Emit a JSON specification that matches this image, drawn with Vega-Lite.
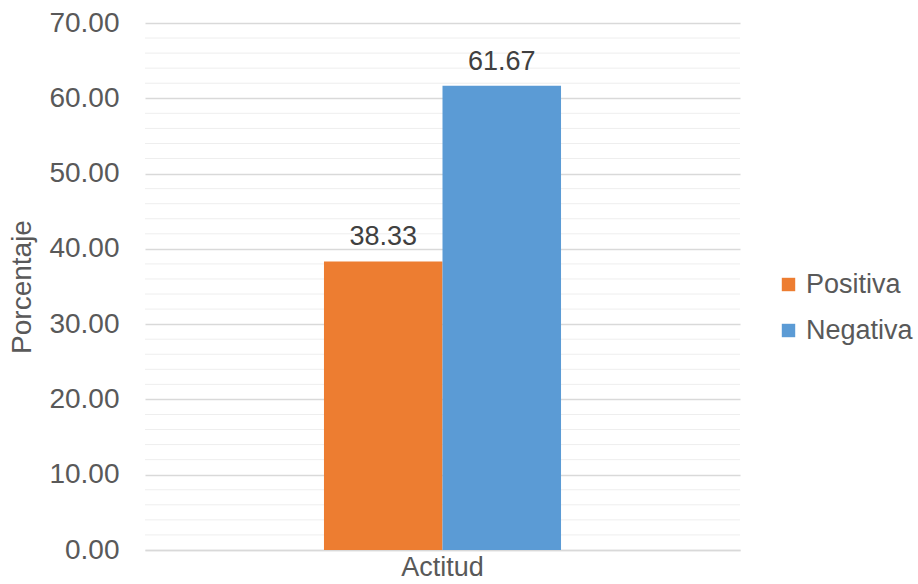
{
  "$schema": "https://vega.github.io/schema/vega-lite/v6.json",
  "width": 595,
  "height": 527,
  "autosize": "none",
  "padding": {"left": 145, "top": 23, "right": 178, "bottom": 34},
  "background": "white",
  "config": {
    "font": "Liberation Sans",
    "view": {"stroke": null}
  },
  "datasets": {
    "bars": [
      {"grupo": "Actitud", "serie": "Positiva", "valor": 38.33},
      {"grupo": "Actitud", "serie": "Negativa", "valor": 61.67}
    ],
    "minor": [
      {"v": 2}, {"v": 4}, {"v": 6}, {"v": 8},
      {"v": 12}, {"v": 14}, {"v": 16}, {"v": 18},
      {"v": 22}, {"v": 24}, {"v": 26}, {"v": 28},
      {"v": 32}, {"v": 34}, {"v": 36}, {"v": 38},
      {"v": 42}, {"v": 44}, {"v": 46}, {"v": 48},
      {"v": 52}, {"v": 54}, {"v": 56}, {"v": 58},
      {"v": 62}, {"v": 64}, {"v": 66}, {"v": 68}
    ]
  },
  "layer": [
    {
      "data": {"name": "minor"},
      "mark": {"type": "rule", "color": "#eeeeee", "strokeWidth": 1},
      "encoding": {
        "y": {
          "field": "v", "type": "quantitative",
          "scale": {"domain": [0, 70], "nice": false},
          "axis": {
            "title": "Porcentaje", "titleFontSize": 28, "titleFontWeight": "normal", "titleColor": "#595959", "titlePadding": 12,
            "values": [0, 10, 20, 30, 40, 50, 60, 70], "format": ".2f",
            "labelFontSize": 28, "labelColor": "#595959", "labelPadding": 26,
            "ticks": false, "domain": false,
            "grid": true, "gridColor": "#d9d9d9", "gridWidth": 1.3
          }
        }
      }
    },
    {
      "data": {"name": "bars"},
      "mark": {"type": "bar"},
      "encoding": {
        "x": {
          "field": "grupo", "type": "nominal",
          "scale": {"paddingInner": 0, "paddingOuter": 0.755},
          "axis": {
            "title": null, "labelAngle": 0, "labelFontSize": 27, "labelColor": "#595959",
            "ticks": false, "domainColor": "#d9d9d9", "domainWidth": 1.5, "labelPadding": 4
          }
        },
        "xOffset": {"field": "serie", "type": "nominal", "sort": ["Positiva", "Negativa"], "scale": {"paddingInner": 0, "paddingOuter": 0}},
        "y": {"field": "valor", "type": "quantitative"},
        "color": {
          "field": "serie", "type": "nominal",
          "scale": {"domain": ["Positiva", "Negativa"], "range": ["#ED7D31", "#5B9BD5"]},
          "legend": {
            "title": null, "orient": "none", "legendX": 630, "legendY": 248,
            "symbolType": "square", "symbolSize": 180, "symbolStrokeWidth": 0, "symbolOpacity": 1,
            "labelFontSize": 27, "labelColor": "#595959", "labelOffset": 4,
            "rowPadding": 18, "labelLimit": 300
          }
        }
      }
    },
    {
      "data": {"name": "bars"},
      "mark": {"type": "text", "fontSize": 27, "color": "#404040", "baseline": "alphabetic", "dy": -16},
      "encoding": {
        "x": {"field": "grupo", "type": "nominal"},
        "xOffset": {"field": "serie", "type": "nominal", "sort": ["Positiva", "Negativa"]},
        "y": {"field": "valor", "type": "quantitative"},
        "text": {"field": "valor", "type": "quantitative", "format": ".2f"}
      }
    }
  ]
}
